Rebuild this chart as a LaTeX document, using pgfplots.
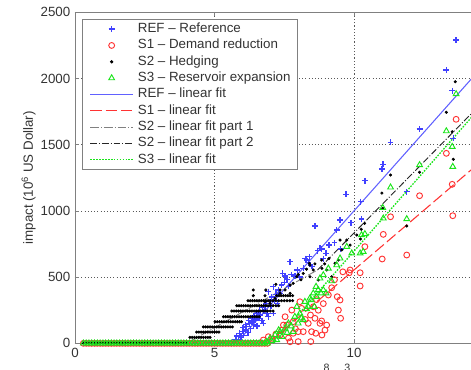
\documentclass[border=0pt]{standalone}
\usepackage{fontspec}
\setmainfont{Liberation Sans}
\usepackage{pgfplots}
\usepackage{pgfplotstable}
\pgfplotsset{compat=1.18}

\definecolor{refblue}{rgb}{0.25,0.25,1}
\definecolor{reflinecol}{rgb}{0.38,0.38,1}
\definecolor{sonered}{rgb}{1,0.2,0.2}
\definecolor{sthreegreen}{rgb}{0.1,0.9,0.1}
\definecolor{axisgray}{gray}{0.5}
\definecolor{labelgray}{gray}{0.2}

% events without damage (impact = 0)
\pgfplotstableread[row sep=\\]{
x y\\
0.3 0\\ 0.4 0\\ 0.5 0\\ 0.6 0\\ 0.7 0\\ 0.8 0\\ 0.9 0\\ 1.0 0\\ 1.1 0\\ 1.2 0\\
1.3 0\\ 1.4 0\\ 1.5 0\\ 1.6 0\\ 1.7 0\\ 1.8 0\\ 1.9 0\\ 2.0 0\\ 2.1 0\\ 2.2 0\\
2.3 0\\ 2.4 0\\ 2.5 0\\ 2.6 0\\ 2.7 0\\ 2.8 0\\ 2.9 0\\ 3.0 0\\ 3.1 0\\ 3.2 0\\
3.3 0\\ 3.4 0\\ 3.5 0\\ 3.6 0\\ 3.7 0\\ 3.8 0\\ 3.9 0\\ 4.0 0\\ 4.1 0\\ 4.2 0\\
4.3 0\\ 4.4 0\\ 4.5 0\\ 4.6 0\\ 4.7 0\\ 4.8 0\\ 4.9 0\\ 5.0 0\\ 5.1 0\\ 5.2 0\\
5.3 0\\ 5.4 0\\ 5.5 0\\ 5.6 0\\ 5.7 0\\ 5.8 0\\ 5.9 0\\ 6.0 0\\ 6.1 0\\ 6.2 0\\
6.3 0\\ 6.4 0\\ 6.5 0\\ 6.6 0\\ 6.7 0\\ 6.8 0\\ 6.9 0\\
}\zeroimpact

\pgfplotstableread[row sep=\\]{
x y\\
5.70 10\\ 5.75 30\\ 5.80 55\\ 5.85 20\\ 5.90 75\\ 5.95 45\\ 6.00 90\\ 6.02 120\\ 6.05 60\\ 6.10 100\\
6.12 140\\ 6.15 125\\ 6.20 80\\ 6.22 170\\ 6.25 150\\ 6.30 110\\ 6.32 190\\ 6.35 160\\ 6.40 140\\ 6.42 210\\
6.45 175\\ 6.50 200\\ 6.52 130\\ 6.55 230\\ 6.60 190\\ 6.62 250\\ 6.65 215\\ 6.70 170\\ 6.72 270\\ 6.75 151\\
6.78 240\\ 6.81 276\\ 6.85 300\\ 6.88 225\\ 6.93 201\\ 6.93 390\\ 6.99 314\\ 7.02 280\\ 7.05 350\\ 7.11 227\\
7.11 427\\ 7.15 330\\ 7.20 370\\ 7.25 300\\ 7.29 403\\ 7.35 378\\ 7.40 440\\ 7.44 528\\ 7.50 460\\ 7.53 508\\
7.60 480\\ 7.65 430\\ 7.71 616\\ 7.75 520\\ 7.88 508\\ 7.97 554\\ 8.05 500\\ 8.18 566\\ 8.25 640\\ 8.30 629\\
8.36 609\\ 8.40 654\\ 8.50 580\\ 8.60 886\\ 8.70 700\\ 8.78 717\\ 8.84 712\\ 8.90 640\\ 9.00 680\\ 9.10 743\\
9.30 760\\ 9.38 855\\ 9.50 931\\ 9.52 712\\ 9.71 1125\\ 9.89 911\\ 10.24 1070\\ 10.27 939\\ 10.39 1228\\ 11.00 1316\\
11.04 1352\\ 11.31 1518\\ 11.89 1145\\ 12.35 1619\\ 13.31 2064\\ 13.52 1908\\ 13.56 1548\\ 13.66 2291\\
}\refdata

\pgfplotstableread[row sep=\\]{
x y\\
6.75 25\\ 6.93 50\\ 7.05 30\\ 7.20 70\\ 7.35 63\\ 7.41 100\\ 7.47 138\\ 7.53 201\\ 7.59 138\\ 7.65 40\\
7.71 12\\ 7.77 251\\ 7.82 163\\ 7.82 76\\ 7.90 110\\ 8.00 13\\ 8.00 88\\ 8.06 314\\ 8.12 264\\ 8.18 88\\
8.25 180\\ 8.36 151\\ 8.44 214\\ 8.45 13\\ 8.48 88\\ 8.54 276\\ 8.60 189\\ 8.63 76\\ 8.66 330\\ 8.72 250\\
8.78 151\\ 8.84 169\\ 8.85 63\\ 8.90 300\\ 8.96 100\\ 9.02 138\\ 9.08 365\\ 9.20 420\\ 9.30 480\\ 9.40 352\\
9.44 251\\ 9.50 327\\ 9.52 189\\ 9.60 540\\ 9.83 533\\ 9.86 554\\ 10.22 533\\ 10.22 433\\ 10.39 730\\ 11.01 637\\
11.05 823\\ 11.31 956\\ 11.89 667\\ 12.35 1115\\ 13.31 1435\\ 13.52 1201\\ 13.54 964\\ 13.66 1692\\
}\sonedata

\pgfplotstableread[row sep=\\]{
x y\\
4.12 45\\ 4.20 45\\ 4.28 45\\ 4.36 45\\ 4.44 45\\ 4.52 45\\ 4.60 45\\ 4.68 45\\ 4.76 45\\ 4.84 45\\
4.36 85\\ 4.44 85\\ 4.52 85\\ 4.60 85\\ 4.68 85\\ 4.76 85\\ 4.84 85\\ 4.92 85\\ 5.00 85\\ 5.08 85\\ 5.16 85\\
4.60 124\\ 4.68 124\\ 4.76 124\\ 4.84 124\\ 4.92 124\\ 5.00 124\\ 5.08 124\\ 5.16 124\\ 5.24 124\\ 5.32 124\\
5.40 124\\ 5.48 124\\ 5.56 124\\ 5.64 124\\
5.02 163\\ 5.10 163\\ 5.18 163\\ 5.26 163\\ 5.34 163\\ 5.42 163\\ 5.50 163\\ 5.58 163\\ 5.66 163\\ 5.74 163\\
5.82 163\\ 5.90 163\\ 5.97 163\\
5.32 201\\ 5.40 201\\ 5.48 201\\ 5.56 201\\ 5.64 201\\ 5.72 201\\ 5.80 201\\ 5.88 201\\ 5.96 201\\ 6.04 201\\
6.12 201\\ 6.20 201\\ 6.28 201\\ 6.36 201\\ 6.44 201\\ 6.52 201\\ 6.60 201\\
5.62 244\\ 5.70 244\\ 5.78 244\\ 5.86 244\\ 5.94 244\\ 6.02 244\\ 6.10 244\\ 6.18 244\\ 6.26 244\\ 6.34 244\\
6.42 244\\ 6.50 244\\ 6.58 244\\ 6.66 244\\ 6.74 244\\ 6.82 244\\ 6.90 244\\ 7.00 244\\ 7.10 244\\
5.80 284\\ 5.88 284\\ 5.96 284\\ 6.04 284\\ 6.12 284\\ 6.20 284\\ 6.28 284\\ 6.36 284\\ 6.44 284\\ 6.52 284\\
6.60 284\\ 6.68 284\\ 6.76 284\\ 6.84 284\\ 6.92 284\\ 7.00 284\\ 7.10 284\\ 7.20 284\\ 7.30 284\\
6.20 322\\ 6.28 322\\ 6.36 322\\ 6.44 322\\ 6.52 322\\ 6.60 322\\ 6.68 322\\ 6.76 322\\ 6.84 322\\ 6.92 322\\
7.00 322\\ 7.10 322\\ 7.20 322\\ 7.30 322\\ 7.40 322\\ 7.50 322\\ 7.60 322\\ 7.70 322\\ 7.80 322\\
6.39 360\\ 6.81 360\\ 7.23 360\\ 7.31 360\\ 7.39 360\\ 7.47 360\\ 7.55 360\\ 7.63 360\\ 7.71 360\\ 7.80 360\\
6.39 403\\ 6.84 403\\ 7.35 403\\ 7.20 446\\
6.81 314\\ 6.99 302\\ 7.17 340\\ 7.35 378\\ 7.53 403\\ 7.71 378\\ 7.71 440\\ 7.82 453\\ 7.95 503\\ 8.00 520\\
8.10 480\\ 8.18 528\\ 8.30 560\\ 8.40 604\\ 8.42 591\\ 8.42 503\\ 8.54 554\\ 8.60 600\\ 8.72 478\\ 8.84 629\\
8.85 566\\ 8.95 600\\ 9.02 554\\ 9.10 640\\ 9.20 503\\ 9.32 604\\ 9.44 629\\ 9.50 780\\ 9.56 705\\ 9.74 780\\
9.86 742\\ 10.10 818\\ 10.23 788\\ 10.26 861\\ 10.38 906\\ 11.00 1135\\ 11.03 1020\\ 11.31 1271\\ 11.89 886\\ 12.35 1292\\
13.31 1745\\ 13.52 1598\\ 13.56 1390\\ 13.63 1976\\
}\stwodata

\pgfplotstableread[row sep=\\]{
x y\\
6.87 12\\ 6.99 38\\ 7.05 20\\ 7.17 63\\ 7.23 25\\ 7.30 100\\ 7.35 88\\ 7.42 50\\ 7.53 113\\ 7.60 80\\
7.65 151\\ 7.75 130\\ 7.82 88\\ 7.88 201\\ 7.95 276\\ 8.00 151\\ 8.06 226\\ 8.12 190\\ 8.18 176\\ 8.24 314\\
8.30 260\\ 8.36 276\\ 8.42 340\\ 8.46 327\\ 8.54 378\\ 8.58 277\\ 8.64 428\\ 8.66 352\\ 8.72 403\\ 8.78 491\\
8.82 378\\ 8.90 516\\ 8.90 403\\ 9.00 378\\ 9.08 566\\ 9.20 470\\ 9.38 591\\ 9.50 642\\ 9.74 730\\ 9.92 680\\
10.22 680\\ 10.27 818\\ 10.33 692\\ 10.39 826\\ 11.03 1024\\ 11.05 944\\ 11.31 1178\\ 11.89 939\\ 12.35 1347\\ 13.31 1603\\
13.52 1485\\ 13.54 1334\\ 13.66 1883\\
}\sthreedata

\pgfplotsset{
  refmark/.style={only marks, mark=+, mark size=2.2pt, color=refblue, line width=1pt,
    mark options={draw=refblue, line width=1pt}},
  sonemark/.style={only marks, mark=o, mark size=2.2pt, color=sonered, line width=0.7pt,
    mark options={draw=sonered, line width=0.7pt}},
  stwomark/.style={only marks, mark=*, mark size=0.95pt, color=black,
    mark options={draw=black, fill=black}},
  sthreemark/.style={only marks, mark=triangle, mark size=2.5pt, color=sthreegreen, line width=0.7pt,
    mark options={draw=sthreegreen, line width=0.7pt}},
}

\begin{document}
\begin{tikzpicture}
\useasboundingbox (-56.25pt,-20pt) rectangle (297pt,257.5pt);
\clip (-56.25pt,-20pt) rectangle (297pt,257.5pt);
\begin{axis}[
  at={(0,0)}, anchor=south west,
  x=20.925pt, y=0.0993pt,
  xmin=0, xmax=15, ymin=0, ymax=2500,
  xtick={0,5,10}, ytick={0,500,...,2500},
  tick align=inside, major tick length=3pt,
  axis line style={axisgray, line width=0.5pt},
  tick style={axisgray, line width=0.5pt},
  grid=major,
  major grid style={line width=0.4pt, draw=black!65, dash pattern=on 0.8pt off 1.6pt},
  ticklabel style={font=\fontsize{10}{12}\selectfont, text=labelgray},
  /pgf/number format/assume math mode=true,
  /pgf/number format/1000 sep={},
  scaled ticks=false,
  xlabel={deficit (10\raisebox{0.62em}{\fontsize{8}{8}\selectfont 8} m\raisebox{0.62em}{\fontsize{8}{8}\selectfont 3})},
  xlabel style={at={(axis description cs:0.6693,-0.1108)}, anchor=base east, inner sep=0pt,
    font=\fontsize{10}{12}\selectfont, text=labelgray},
  ylabel={impact (10\textsuperscript{6} US Dollar)},
  ylabel style={at={(axis description cs:-0.111,0.5)}, anchor=center,
    font=\fontsize{10}{12}\selectfont, text=labelgray},
  legend image code/.code={\draw[mark repeat=2,mark phase=2,#1] plot coordinates {(0pt,0pt) (16pt,0pt) (32pt,0pt)};},
  legend cell align=left,
  legend style={at={(axis description cs:0.0175,0.9799)}, anchor=north west,
    font=\fontsize{10}{12}\selectfont, draw=axisgray, fill=white, line width=0.6pt,
    inner xsep=5.2pt, inner ysep=2.5pt, row sep=2.65pt, column sep=3.2pt,
    nodes={inner sep=0pt, text height=7.4pt, text depth=2.2pt, text=labelgray}},
]
% scatter of simulated events
\addplot[refmark, forget plot, restrict x to domain=0:5.65] table {\zeroimpact};
\addplot[refmark] table {\refdata};
\addlegendentry{REF -- Reference}
\addplot[sonemark, forget plot] table {\zeroimpact};
\addplot[sonemark] table {\sonedata};
\addlegendentry{S1 -- Demand reduction}
\addplot[stwomark, forget plot, restrict x to domain=0:4.05] table {\zeroimpact};
\addplot[stwomark] table {\stwodata};
\addlegendentry{S2 -- Hedging}
\addplot[sthreemark, forget plot] table {\zeroimpact};
\addplot[sthreemark] table {\sthreedata};
\addlegendentry{S3 -- Reservoir expansion}
% linear fits
\addplot[no marks, draw=reflinecol, line width=0.8pt] coordinates {(5.82,10) (15,2185)};
\addlegendentry{REF -- linear fit}
\addplot[no marks, draw=sonered, line width=0.8pt, dash pattern=on 8.5pt off 3pt] coordinates {(7.0,14) (15,1454)};
\addlegendentry{S1 -- linear fit}
\addplot[no marks, draw=black!50, line width=0.7pt, dash pattern=on 6.5pt off 1.5pt on 0.7pt off 1.5pt] coordinates {(4.1,12) (8.7,555)};
\addlegendentry{S2 -- linear fit part 1}
\addplot[no marks, draw=black!85, line width=0.7pt, dash pattern=on 5pt off 1.5pt on 0.7pt off 1.5pt] coordinates {(8.7,555) (15,1905)};
\addlegendentry{S2 -- linear fit part 2}
\addplot[no marks, draw=sthreegreen, line width=1pt, dash pattern=on 1.2pt off 1pt] coordinates {(7.1,0) (15,1896)};
\addlegendentry{S3 -- linear fit}
\end{axis}
\end{tikzpicture}
\end{document}
